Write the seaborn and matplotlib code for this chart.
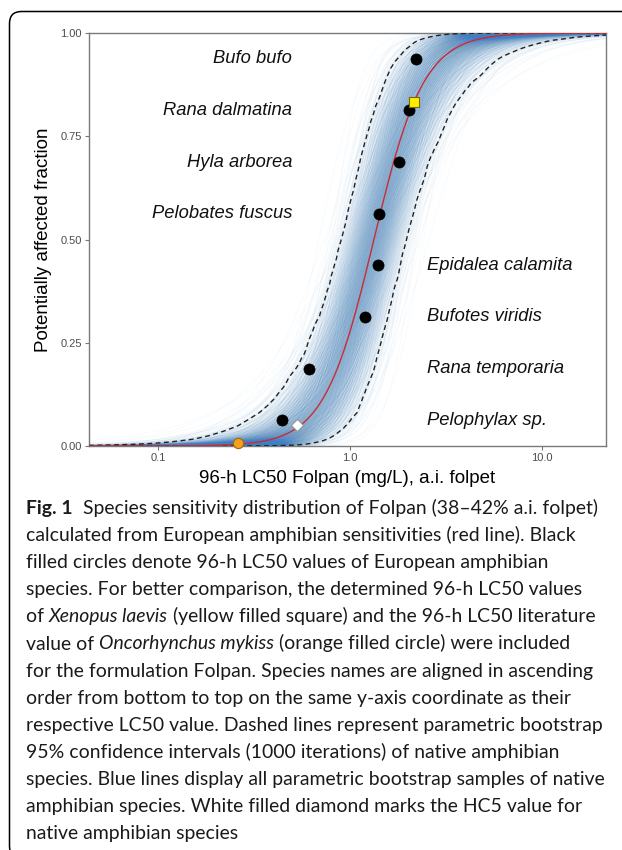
import numpy as np
import matplotlib
matplotlib.use("Agg")
import matplotlib.pyplot as plt
import seaborn as sns
from matplotlib.collections import LineCollection
from matplotlib.patches import FancyBboxPatch
from matplotlib.transforms import IdentityTransform
from statistics import NormalDist

# ---------------- data ----------------
species = ["Pelophylax sp.", "Rana temporaria", "Bufotes viridis", "Epidalea calamita",
           "Pelobates fuscus", "Hyla arborea", "Rana dalmatina", "Bufo bufo"]
lc50 = [0.44, 0.61, 1.19, 1.40, 1.42, 1.79, 2.02, 2.20]
fraction = [0.0625, 0.1875, 0.3125, 0.4375, 0.5625, 0.6875, 0.8125, 0.9375]

xenopus_lc50 = [2.15]
xenopus_frac = [0.832]
oncorhynchus_lc50 = [0.26]
oncorhynchus_frac = [0.008]
hc5_value = [0.53]
hc5_frac = [0.05]

# fitted SSD (log-logistic on log10 concentration)
fit_loc = 0.124
fit_scale = 0.130
# parametric bootstrap spread
boot_n = 1000
boot_loc_sd = 0.087
boot_scale_logsd = 0.28

x_range = [0.0437, 21.5]
x_ticks = [0.1, 1.0, 10.0]
x_tick_labels = ["0.1", "1.0", "10.0"]
y_ticks = [0.0, 0.25, 0.5, 0.75, 1.0]
y_tick_labels = ["0.00", "0.25", "0.50", "0.75", "1.00"]

caption_lines = [
    [("Fig. 1", "bold"), ("  Species sensitivity distribution of Folpan (38\u201342% a.i. folpet)", "normal")],
    [("calculated from European amphibian sensitivities (red line). Black", "normal")],
    [("filled circles denote 96-h LC50 values of European amphibian", "normal")],
    [("species. For better comparison, the determined 96-h LC50 values", "normal")],
    [("of ", "normal"), ("Xenopus laevis", "italic"), (" (yellow filled square) and the 96-h LC50 literature", "normal")],
    [("value of ", "normal"), ("Oncorhynchus mykiss", "italic"), (" (orange filled circle) were included", "normal")],
    [("for the formulation Folpan. Species names are aligned in ascending", "normal")],
    [("order from bottom to top on the same y-axis coordinate as their", "normal")],
    [("respective LC50 value. Dashed lines represent parametric bootstrap", "normal")],
    [("95% confidence intervals (1000 iterations) of native amphibian", "normal")],
    [("species. Blue lines display all parametric bootstrap samples of native", "normal")],
    [("amphibian species. White filled diamond marks the HC5 value for", "normal")],
    [("native amphibian species", "normal")],
]

# ---------------- figure ----------------
sns.set_theme(style="white")
plt.rcParams["font.family"] = ["Liberation Sans", "DejaVu Sans"]

W, H = 622, 850
fig = plt.figure(figsize=(W / 100, H / 100), dpi=100)
ax = fig.add_axes([89 / W, (H - 446) / H, (606 - 89) / W, (446 - 33) / H])
ax.set_xscale("log")

xs = np.logspace(np.log10(x_range[0]), np.log10(x_range[1]), 400)
lx = np.log10(xs)

def loglogistic(loc, scale):
    return 1.0 / (1.0 + np.exp(-(lx - loc) / scale))

# deterministic low-discrepancy set of bootstrap parameters
nd = NormalDist()
u = (np.arange(boot_n) + 0.5) / boot_n
v = np.mod((np.arange(boot_n) + 0.5) * 0.6180339887, 1.0)
z1 = np.array([nd.inv_cdf(a) for a in u])
z2 = np.array([nd.inv_cdf(a) for a in v])
boot_locs = fit_loc + boot_loc_sd * z1
boot_scales = fit_scale * np.exp(boot_scale_logsd * z2)
ens = np.array([loglogistic(l, s) for l, s in zip(boot_locs, boot_scales)])

segs = [np.column_stack([xs, f]) for f in ens]
lc = LineCollection(segs, colors="#3a80c4", alpha=0.04, linewidths=0.6, zorder=1)
ax.add_collection(lc)

lower = np.quantile(ens, 0.025, axis=0)
upper = np.quantile(ens, 0.975, axis=0)
sns.lineplot(x=xs, y=upper, ax=ax, color="#222222", linewidth=1.0, linestyle=(0, (3.5, 2.5)), zorder=3)
sns.lineplot(x=xs, y=lower, ax=ax, color="#222222", linewidth=1.0, linestyle=(0, (3.5, 2.5)), zorder=3)
sns.lineplot(x=xs, y=loglogistic(fit_loc, fit_scale), ax=ax, color="#cc2a36", linewidth=1.0, zorder=4)

sns.scatterplot(x=lc50, y=fraction, ax=ax, color="black", s=64, edgecolor="black", linewidth=0.5, zorder=5)
sns.scatterplot(x=xenopus_lc50, y=xenopus_frac, ax=ax, marker="s", color="#ffee00", s=45,
                edgecolor="#7a6a00", linewidth=0.8, zorder=6)
sns.scatterplot(x=oncorhynchus_lc50, y=oncorhynchus_frac, ax=ax, marker="o", color="#f5a01a", s=55,
                edgecolor="#9a6a10", linewidth=0.8, zorder=6, clip_on=False)
sns.scatterplot(x=hc5_value, y=hc5_frac, ax=ax, marker="D", color="white", s=38,
                edgecolor="#999999", linewidth=0.8, zorder=6)

# species labels (aligned to the same y as each LC50)
for name, fr in zip(species, fraction):
    if fr > 0.5:
        ax.text(0.5, fr, name, ha="right", va="center", style="italic", fontsize=13.2, color="#111111")
    else:
        ax.text(2.5, fr, name, ha="left", va="center", style="italic", fontsize=13.2, color="#111111")

ax.set_xlim(x_range)
ax.set_ylim(0, 1)
ax.set_xticks(x_ticks)
ax.set_xticklabels(x_tick_labels)
ax.xaxis.set_minor_locator(matplotlib.ticker.NullLocator())
ax.set_yticks(y_ticks)
ax.set_yticklabels(y_tick_labels)
ax.tick_params(axis="both", which="major", length=3, width=0.8, color="#777777",
               labelcolor="#4d4d4d", labelsize=8, pad=2, left=True, bottom=True)
for sp in ax.spines.values():
    sp.set_color("#7a7a7a")
    sp.set_linewidth(1.0)

ax.set_xlabel("96-h LC50 Folpan (mg/L), a.i. folpet", fontsize=13.5, color="black")
ax.set_ylabel("Potentially affected fraction", fontsize=13.5, color="black")
ax.xaxis.set_label_coords(0.5, (446 - 470) / 413)
ax.yaxis.set_label_coords((52 - 89) / 517, 0.5)

# rounded frame around the figure panel (only left/top visible)
frame = FancyBboxPatch((9.5, -8), 700, 838.5 + 8, boxstyle="round,pad=0,rounding_size=12",
                       transform=IdentityTransform(), fill=False, edgecolor="black", linewidth=1.1)
fig.add_artist(frame)

# caption
cap_font = ["Lato", "DejaVu Sans"]
renderer = fig.canvas.get_renderer()
probe = fig.text(0, 0, "".join(s for s, _ in caption_lines[0]), fontsize=12, family=cap_font)
pw = probe.get_window_extent(renderer).width
probe.remove()
cap_size = 12 * 568 / pw

x0 = 26
base0 = 514
dy = 27.1
for k, line in enumerate(caption_lines):
    x = x0
    ybase = H - (base0 + k * dy)
    for txt, sty in line:
        kw = dict(fontsize=cap_size, family=cap_font, color="#1a1a1a", va="baseline", ha="left",
                  transform=IdentityTransform())
        if sty == "bold":
            kw["fontweight"] = "bold"
        elif sty == "italic":
            kw["style"] = "italic"
        t = fig.text(x, ybase, txt, **kw)
        x = t.get_window_extent(renderer).x1

fig.savefig("out.png", dpi=100)
